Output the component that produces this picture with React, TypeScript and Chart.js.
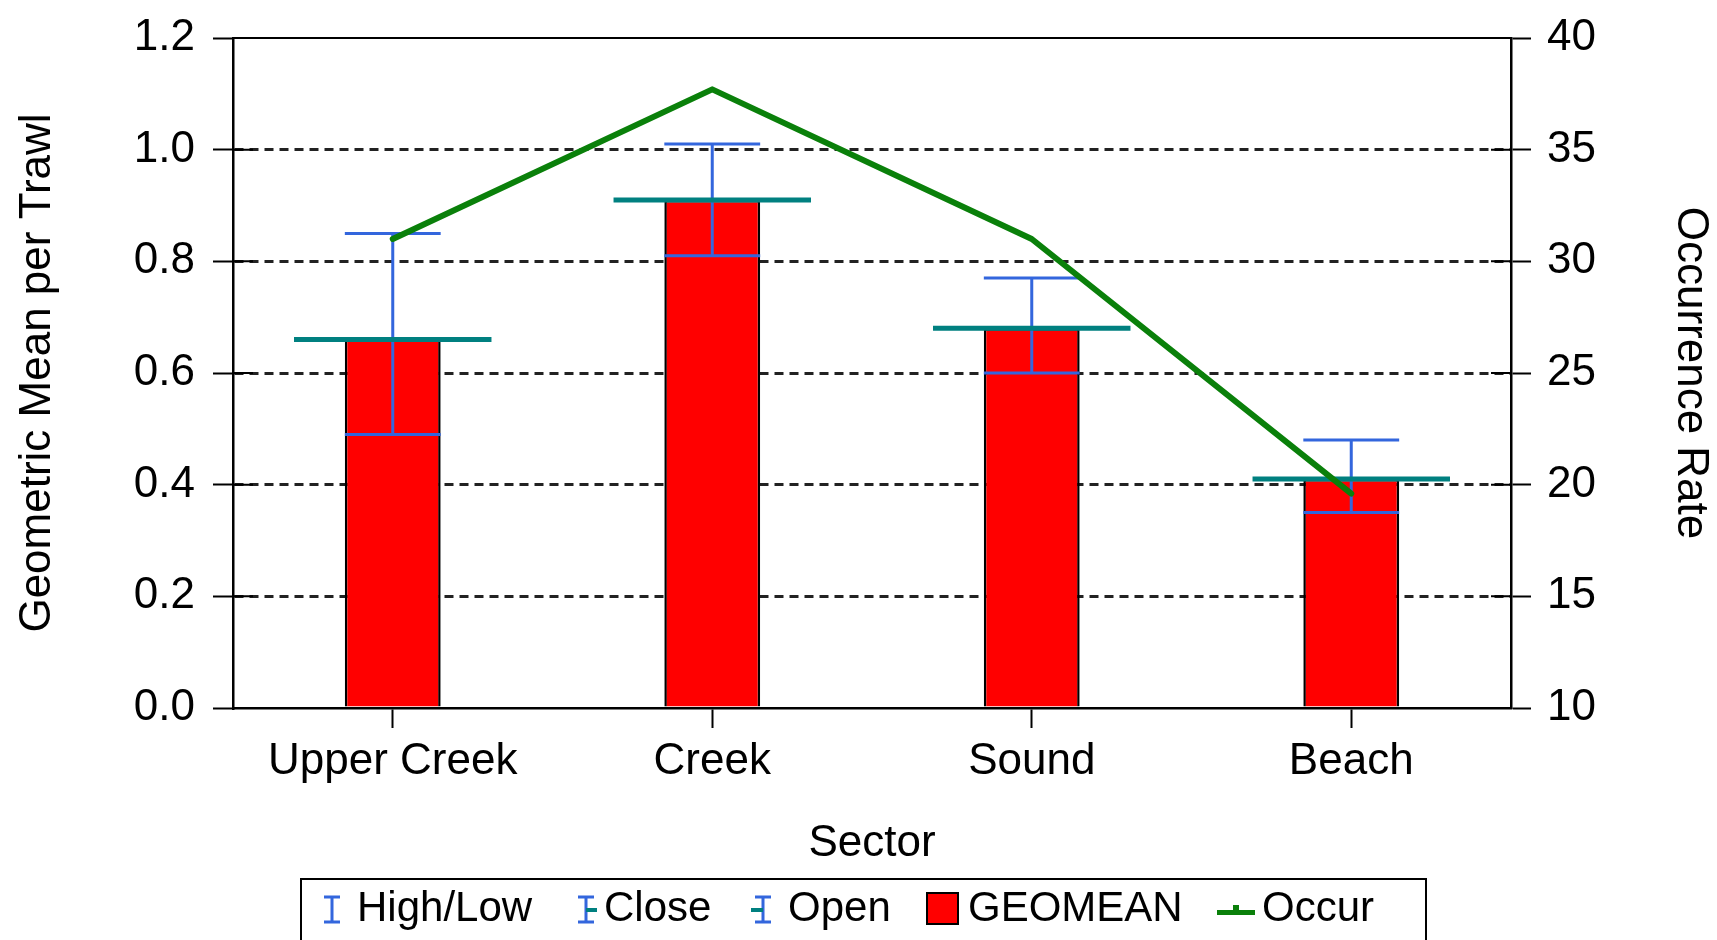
import React, { useEffect, useRef } from 'react';
import { Chart, registerables } from 'chart.js';

Chart.register(...registerables);

// ---- data ----
const categories = ['Upper Creek', 'Creek', 'Sound', 'Beach'];
const geomean = [0.66, 0.91, 0.68, 0.41];
const highValues = [0.85, 1.01, 0.77, 0.48];
const lowValues = [0.49, 0.81, 0.6, 0.35];
const openValues = [0.66, 0.91, 0.68, 0.41];
const closeValues = [0.66, 0.91, 0.68, 0.41];
const occur = [31.0, 37.7, 31.0, 19.6];
const legendLabels = ['High/Low', 'Close', 'Open', 'GEOMEAN', 'Occur'];

const FONT = '"Liberation Sans", Arial, sans-serif';
const BLUE = '#3366DD';
const TEAL = '#008080';
const GREEN = '#0A800A';
const RED = '#FF0000';

const stockPlugin = {
  id: 'stockMarks',
  afterDatasetDraw(chart: any, args: any) {
    if (args.meta.type !== 'bar') return;
    const ctx = chart.ctx;
    const y = chart.scales.y;
    args.meta.data.forEach((bar: any, i: number) => {
      const cx = bar.x;
      const w = bar.width;
      const yh = y.getPixelForValue(highValues[i]);
      const yl = y.getPixelForValue(lowValues[i]);
      const yo = y.getPixelForValue(openValues[i]);
      const yc = y.getPixelForValue(closeValues[i]);
      ctx.save();
      ctx.strokeStyle = BLUE;
      ctx.lineWidth = 3;
      ctx.beginPath();
      ctx.moveTo(cx, yh);
      ctx.lineTo(cx, yl);
      ctx.moveTo(cx - w / 2, yh);
      ctx.lineTo(cx + w / 2, yh);
      ctx.moveTo(cx - w / 2, yl);
      ctx.lineTo(cx + w / 2, yl);
      ctx.stroke();
      ctx.strokeStyle = TEAL;
      ctx.lineWidth = 5;
      ctx.beginPath();
      ctx.moveTo(cx - w * 1.03, yo);
      ctx.lineTo(cx, yo);
      ctx.moveTo(cx, yc);
      ctx.lineTo(cx + w * 1.03, yc);
      ctx.stroke();
      ctx.restore();
    });
  },
};

const framePlugin = {
  id: 'frame',
  beforeDatasetsDraw(chart: any) {
    const ctx = chart.ctx;
    const { left, right, top } = chart.chartArea;
    ctx.save();
    ctx.strokeStyle = '#000';
    ctx.lineWidth = 2;
    ctx.beginPath();
    ctx.moveTo(left, top);
    ctx.lineTo(right, top);
    chart.scales.y.ticks.forEach((t: any) => {
      const p = chart.scales.y.getPixelForValue(t.value);
      ctx.moveTo(left, p);
      ctx.lineTo(left + 20, p);
    });
    chart.scales.y2.ticks.forEach((t: any) => {
      const p = chart.scales.y2.getPixelForValue(t.value);
      ctx.moveTo(right - 20, p);
      ctx.lineTo(right, p);
    });
    ctx.stroke();
    ctx.restore();
  },
};

const legendPlugin = {
  id: 'customLegend',
  afterDraw(chart: any) {
    const ctx = chart.ctx;
    const cy = 909;
    ctx.save();
    ctx.strokeStyle = '#000';
    ctx.lineWidth = 2;
    ctx.strokeRect(301, 879, 1125, 100);

    const drawI = (x: number) => {
      ctx.strokeStyle = BLUE;
      ctx.lineWidth = 3;
      ctx.beginPath();
      ctx.moveTo(x, cy - 12);
      ctx.lineTo(x, cy + 13);
      ctx.moveTo(x - 8, cy - 12);
      ctx.lineTo(x + 8, cy - 12);
      ctx.moveTo(x - 8, cy + 13);
      ctx.lineTo(x + 8, cy + 13);
      ctx.stroke();
    };
    const tick = (x1: number, x2: number) => {
      ctx.strokeStyle = TEAL;
      ctx.lineWidth = 4;
      ctx.beginPath();
      ctx.moveTo(x1, cy + 1);
      ctx.lineTo(x2, cy + 1);
      ctx.stroke();
    };
    // High/Low
    drawI(332);
    // Close
    drawI(586);
    tick(586, 597);
    // Open
    drawI(763);
    tick(751, 763);
    // GEOMEAN
    ctx.fillStyle = RED;
    ctx.fillRect(927, cy - 16, 31, 31);
    ctx.strokeStyle = '#000';
    ctx.lineWidth = 2;
    ctx.strokeRect(927, cy - 16, 31, 31);
    // Occur
    ctx.fillStyle = GREEN;
    ctx.fillRect(1217, cy + 1, 38, 5);
    ctx.fillRect(1233, cy - 4, 6, 6);

    ctx.fillStyle = '#000';
    ctx.font = `42px ${FONT}`;
    ctx.textBaseline = 'middle';
    ctx.textAlign = 'left';
    const xs = [357, 604, 788, 968, 1262];
    legendLabels.forEach((l, i) => ctx.fillText(l, xs[i], cy));
    ctx.restore();
  },
};

export default function App() {
  const ref = useRef<HTMLCanvasElement>(null);
  useEffect(() => {
    const canvas = ref.current!;
    const chart = new Chart(canvas, {
      type: 'bar',
      data: {
        labels: categories,
        datasets: [
          {
            type: 'line',
            label: 'Occur',
            data: occur,
            yAxisID: 'y2',
            borderColor: GREEN,
            backgroundColor: GREEN,
            borderWidth: 6,
            pointRadius: 0,
            tension: 0,
            order: 0,
            borderJoinStyle: 'round',
            borderCapStyle: 'round',
          } as any,
          {
            type: 'bar',
            label: 'GEOMEAN',
            data: geomean,
            yAxisID: 'y',
            backgroundColor: RED,
            borderColor: '#000',
            borderWidth: 2.5,
            barPercentage: 0.3,
            categoryPercentage: 1,
            order: 1,
          } as any,
        ],
      },
      options: {
        responsive: false,
        animation: false,
        devicePixelRatio: 1,
        layout: { padding: { top: 38, bottom: 70, left: 0, right: 0 } },
        plugins: {
          legend: { display: false },
          tooltip: { enabled: false },
          title: { display: false },
        },
        scales: {
          x: {
            type: 'category',
            offset: true,
            grid: {
              offset: false,
              drawOnChartArea: false,
              drawTicks: true,
              tickLength: 20,
              tickColor: '#000',
              tickWidth: 2,
            },
            border: { display: true, color: '#000', width: 2.5 },
            ticks: { color: '#000', font: { family: FONT, size: 44 }, padding: 7, maxRotation: 0, autoSkip: false },
            title: { display: true, text: 'Sector', color: '#000', font: { family: FONT, size: 44 }, padding: { top: 0, bottom: 0 } },
            afterFit: (s: any) => { s.height = 162; s.paddingLeft = 0; s.paddingRight = 0; },
          },
          y: {
            type: 'linear',
            position: 'left',
            min: 0,
            max: 1.2,
            ticks: {
              stepSize: 0.2,
              color: '#000',
              font: { family: FONT, size: 44 },
              padding: 18,
              callback: (v: any) => Number(v).toFixed(1),
            },
            grid: {
              color: (c: any) => {
                const v = c.tick ? c.tick.value : 0;
                return v <= 0.0001 || v >= 1.1999 ? 'rgba(0,0,0,0)' : '#222';
              },
              lineWidth: 3,
              tickLength: 20,
              tickColor: '#000',
              tickWidth: 2,
              tickBorderDash: [],
            },
            border: { display: true, color: '#000', width: 2.5, dash: [9, 6] },
            title: { display: true, text: 'Geometric Mean per Trawl', color: '#000', font: { family: FONT, size: 44 }, padding: { top: 11, bottom: 0 } },
            afterFit: (s: any) => { s.width = 233; s.paddingTop = 0; s.paddingBottom = 0; },
          },
          y2: {
            type: 'linear',
            position: 'right',
            min: 10,
            max: 40,
            ticks: { stepSize: 5, color: '#000', font: { family: FONT, size: 44 }, padding: 16 },
            grid: { drawOnChartArea: false, tickLength: 20, tickColor: '#000', tickWidth: 2, color: '#000' },
            border: { display: true, color: '#000', width: 2.5 },
            title: { display: true, text: 'Occurrence Rate', color: '#000', font: { family: FONT, size: 44 }, padding: { top: 0, bottom: 0 } },
            afterFit: (s: any) => { s.width = 206; s.paddingTop = 0; s.paddingBottom = 0; },
          },
        },
      } as any,
      plugins: [framePlugin, stockPlugin, legendPlugin],
    });
    return () => chart.destroy();
  }, []);

  return (
    <div style={{ position: 'fixed', left: 0, top: 0, width: 1717, height: 940, background: '#fff' }}>
      <canvas ref={ref} width={1717} height={940} style={{ display: 'block' }} />
    </div>
  );
}
